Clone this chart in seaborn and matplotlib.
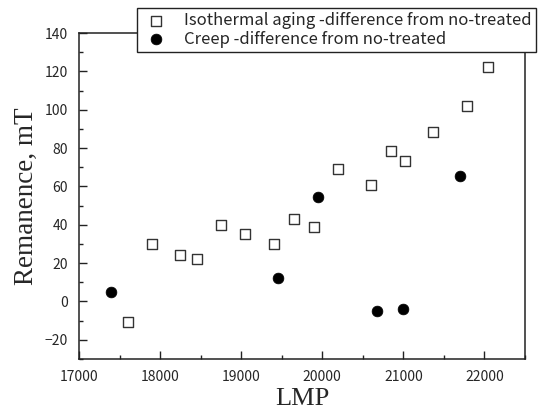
import numpy as np
import pandas as pd
import matplotlib
matplotlib.use('Agg')
import matplotlib.pyplot as plt
from matplotlib.ticker import MultipleLocator
import seaborn as sns

# data
iso_lmp = [17600, 17900, 18250, 18450, 18750, 19050, 19400, 19650, 19900,
           20200, 20600, 20850, 21020, 21360, 21790, 22040]
iso_rem = [-10.7, 30, 24.5, 22, 40, 35, 30, 43, 39,
           69.2, 60.9, 78.6, 73.4, 88.5, 102.1, 122.4]

creep_lmp = [17400, 19450, 19950, 20680, 20990, 21700]
creep_rem = [5, 12, 54.3, -4.8, -4, 65.4]

iso_label = 'Isothermal aging -difference from no-treated'
creep_label = 'Creep -difference from no-treated'

sns.set_style('white')
plt.rcParams['font.family'] = ['Noto Sans CJK JP', 'DejaVu Sans']

fig = plt.figure(figsize=(5.38, 4.12), dpi=100)
ax = fig.add_axes([0.1468, 0.1286, 0.829, 0.7913])

df_iso = pd.DataFrame({'LMP': iso_lmp, 'Rem': iso_rem})
df_creep = pd.DataFrame({'LMP': creep_lmp, 'Rem': creep_rem})

sns.scatterplot(data=df_iso, x='LMP', y='Rem', marker='s', s=48,
                facecolor='white', edgecolor='#333333', linewidth=1.0,
                label=iso_label, ax=ax, zorder=3)
sns.scatterplot(data=df_creep, x='LMP', y='Rem', marker='o', s=60,
                color='black', edgecolor='black', linewidth=0.5,
                label=creep_label, ax=ax, zorder=3)

ax.set_xlim(17000, 22500)
ax.set_ylim(-30, 140)
ax.xaxis.set_major_locator(MultipleLocator(1000))
ax.xaxis.set_minor_locator(MultipleLocator(500))
ax.yaxis.set_major_locator(MultipleLocator(20))
ax.yaxis.set_minor_locator(MultipleLocator(10))
ax.tick_params(which='major', direction='in', length=6, width=1,
               labelsize=10, color='#222222', pad=8)
ax.tick_params(which='minor', direction='in', length=3, width=1,
               color='#222222')
ax.tick_params(top=False, right=False, bottom=True, left=True, which='both')

for sp in ax.spines.values():
    sp.set_linewidth(1.1)
    sp.set_color('#222222')

ax.set_xlabel('LMP', family='Liberation Serif', fontsize=19, labelpad=3)
ax.set_ylabel('Remanence, mT', family='Liberation Serif', fontsize=19.5,
              labelpad=4)

leg = ax.legend(loc='upper left', bbox_to_anchor=(137 / 538, 1 - 8 / 412),
                bbox_transform=fig.transFigure, fontsize=12, frameon=True,
                fancybox=False, framealpha=1, edgecolor='#222222',
                borderpad=0.25, handletextpad=0.8, labelspacing=0.1,
                borderaxespad=0, handlelength=1.8)
leg.get_frame().set_linewidth(1.0)
leg.set_zorder(5)

fig.savefig('out.png', dpi=100)
